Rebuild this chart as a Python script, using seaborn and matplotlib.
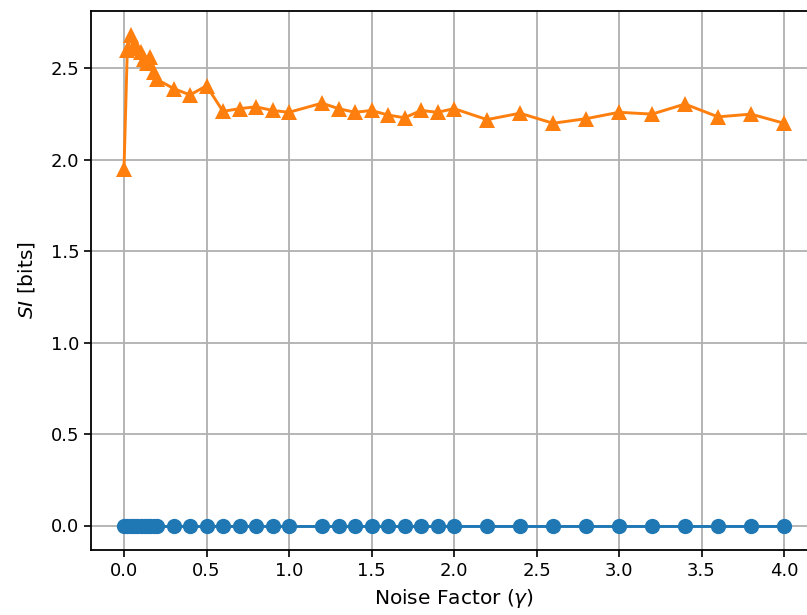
import matplotlib
matplotlib.use("Agg")
import matplotlib.pyplot as plt
import seaborn as sns
import numpy as np
import pandas as pd

# Noise factor values (gamma)
gamma = [0.0, 0.02, 0.04, 0.06, 0.08, 0.10, 0.12, 0.14, 0.16, 0.18, 0.20,
         0.3, 0.4, 0.5, 0.6, 0.7, 0.8, 0.9, 1.0,
         1.2, 1.3, 1.4, 1.5, 1.6, 1.7, 1.8, 1.9, 2.0,
         2.2, 2.4, 2.6, 2.8, 3.0, 3.2, 3.4, 3.6, 3.8, 4.0]

# Synergistic information, first estimator (zero throughout)
si_zero = [0.0] * len(gamma)

# Synergistic information, second estimator
si_est = [1.95, 2.60, 2.68, 2.63, 2.61, 2.59, 2.55, 2.53, 2.56, 2.48, 2.44,
          2.39, 2.355, 2.405, 2.265, 2.28, 2.29, 2.27, 2.26,
          2.31, 2.28, 2.26, 2.27, 2.245, 2.23, 2.27, 2.26, 2.28,
          2.22, 2.255, 2.20, 2.225, 2.26, 2.25, 2.305, 2.235, 2.25, 2.20]

xticks = [0.0, 0.5, 1.0, 1.5, 2.0, 2.5, 3.0, 3.5, 4.0]
yticks = [0.0, 0.5, 1.0, 1.5, 2.0, 2.5]

sns.set_style("ticks")
plt.rcParams["font.family"] = ["DejaVu Sans"]
plt.rcParams["mathtext.fontset"] = "dejavusans"
plt.rcParams["text.color"] = "black"
plt.rcParams["axes.labelcolor"] = "black"
plt.rcParams["xtick.color"] = "black"
plt.rcParams["ytick.color"] = "black"

df = pd.DataFrame({"gamma": gamma, "zero": si_zero, "est": si_est})

fig = plt.figure(figsize=(8.07, 6.15), dpi=100)
ax = fig.add_axes([91 / 807, (615 - 550) / 615, 726 / 807, 539 / 615])

sns.lineplot(data=df, x="gamma", y="zero", ax=ax, color="#1f77b4",
             marker="o", markersize=11, markeredgecolor="#1f77b4",
             markeredgewidth=0, linewidth=2.1, zorder=3)
sns.lineplot(data=df, x="gamma", y="est", ax=ax, color="#ff7f0e",
             marker="^", markersize=11.5, markeredgecolor="#ff7f0e",
             markeredgewidth=0, linewidth=2.1, zorder=3)

ax.set_xlim(-0.2, 4.2)
ax.set_ylim(-0.134, 2.814)
ax.set_xticks(xticks)
ax.set_yticks(yticks)
ax.set_xticklabels([f"{t:.1f}" for t in xticks])
ax.set_yticklabels([f"{t:.1f}" for t in yticks])
ax.grid(True, color="#b0b0b0", linewidth=1.3)
ax.set_axisbelow(True)
ax.tick_params(labelsize=13, length=5, width=1.2, colors="black")
for s in ax.spines.values():
    s.set_linewidth(1.3)
    s.set_color("black")

ax.set_xlabel(r"Noise Factor ($\gamma$)", fontsize=14.5, labelpad=5)
ax.set_ylabel(r"$SI$ [bits]", fontsize=14.5, labelpad=10)

fig.savefig("out.png", dpi=100)
